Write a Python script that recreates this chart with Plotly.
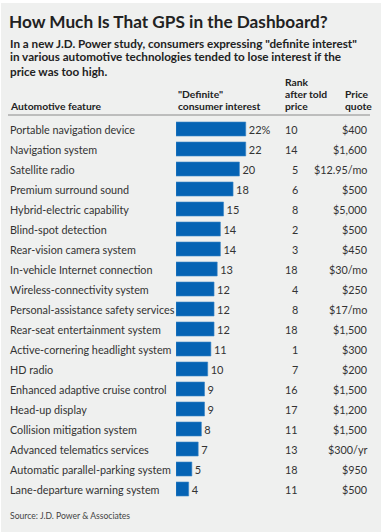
import plotly.graph_objects as go

features = [
    "Portable navigation device", "Navigation system", "Satellite radio",
    "Premium surround sound", "Hybrid-electric capability", "Blind-spot detection",
    "Rear-vision camera system", "In-vehicle Internet connection",
    "Wireless-connectivity system", "Personal-assistance safety services",
    "Rear-seat entertainment system", "Active-cornering headlight system",
    "HD radio", "Enhanced adaptive cruise control", "Head-up display",
    "Collision mitigation system", "Advanced telematics services",
    "Automatic parallel-parking system", "Lane-departure warning system",
]
interest = [22, 22, 20, 18, 15, 14, 14, 13, 12, 12, 12, 11, 10, 9, 9, 8, 7, 5, 4]
rank_after_price = [10, 14, 5, 6, 8, 2, 3, 18, 4, 8, 18, 1, 7, 16, 17, 11, 13, 18, 11]
price_quote = ["$400", "$1,600", "$12.95/mo", "$500", "$5,000", "$500", "$450",
               "$30/mo", "$250", "$17/mo", "$1,500", "$300", "$200", "$1,500",
               "$1,200", "$1,500", "$300/yr", "$950", "$500"]
value_labels = [f"{v}%" if i == 0 else str(v) for i, v in enumerate(interest)]

title = "How Much Is That GPS in the Dashboard?"
subtitle_lines = [
    "In a new J.D. Power study, consumers expressing \"definite interest\"",
    "in various automotive technologies tended to lose interest if the",
    "price was too high.",
]
source = "Source: J.D. Power & Associates"

W, H = 381, 532
FONT = "Lato, Roboto, sans-serif"
BG = "#eff0ef"
TXT = "#333333"

def px(x):
    return x / W

def py(y):
    return 1 - y / H

fig = go.Figure()
fig.add_trace(go.Bar(
    x=interest, y=features, orientation="h",
    marker=dict(color="#0563b4", line=dict(color="#3a86c8", width=0.6)),
    width=0.7,
    text=value_labels, textposition="outside", cliponaxis=False,
    textfont=dict(family=FONT, size=11, color=TXT),
    hoverinfo="skip",
))

ann = []
ann.append(dict(text=title, x=px(7), y=py(22), xref="paper", yref="paper",
                xanchor="left", yanchor="middle", showarrow=False,
                font=dict(family=FONT, size=17.2, color="#222222", weight=700)))
for i, line in enumerate(subtitle_lines):
    ann.append(dict(text=line, x=px(8), y=py(42.5 + 14 * i), xref="paper", yref="paper",
                    xanchor="left", yanchor="middle", showarrow=False,
                    font=dict(family=FONT, size=11.7, color="#222222", weight=700)))

hdr_font = dict(family=FONT, size=10.3, color="#222222", weight=700)
def hdr(text, x, y):
    ann.append(dict(text=text, x=px(x), y=py(y), xref="paper", yref="paper",
                    xanchor="left", yanchor="middle", showarrow=False, font=hdr_font))
hdr("Automotive feature", 8, 106)
hdr("\"Definite\"", 176, 94)
hdr("consumer interest", 176, 106)
hdr("Rank", 283, 82)
hdr("after told", 283, 94)
hdr("price", 283, 106)
hdr("Price", 343, 94)
hdr("quote", 343, 106)

row_font = dict(family=FONT, size=10.8, color=TXT)
for f, r, p in zip(features, rank_after_price, price_quote):
    ann.append(dict(text=f, x=px(8), y=f, xref="paper", yref="y",
                    xanchor="left", yanchor="middle", showarrow=False, font=row_font))
    ann.append(dict(text=str(r), x=px(300), y=f, xref="paper", yref="y",
                    xanchor="right", yanchor="middle", showarrow=False, font=row_font))
    ann.append(dict(text=p, x=px(369), y=f, xref="paper", yref="y",
                    xanchor="right", yanchor="middle", showarrow=False, font=row_font))

ann.append(dict(text=source, x=px(8), y=py(516), xref="paper", yref="paper",
                xanchor="left", yanchor="middle", showarrow=False,
                font=dict(family=FONT, size=8.6, color="#444444")))

shapes = [
    dict(type="rect", xref="paper", yref="paper", x0=px(1), x1=1, y0=0, y1=py(3),
         fillcolor=BG, line=dict(width=0), layer="below"),
    dict(type="line", xref="paper", yref="paper", x0=px(8), x1=px(370),
         y0=py(115), y1=py(115), line=dict(color="#8a8a8a", width=1)),
]

top, bottom = 119, 499
fig.update_layout(
    width=W, height=H, margin=dict(l=0, r=0, t=0, b=0),
    paper_bgcolor="white", plot_bgcolor="rgba(0,0,0,0)",
    showlegend=False, annotations=ann, shapes=shapes,
    xaxis=dict(domain=[px(176), px(376)], range=[0, 200 / 3.17], visible=False,
               fixedrange=True),
    yaxis=dict(domain=[py(bottom), py(top)], range=[len(features) - 0.5, -0.5],
               type="category", categoryorder="array", categoryarray=features,
               visible=False, fixedrange=True),
    bargap=0.3,
)

fig.write_html(
    "out.html",
    config={"displayModeBar": False},
    post_script="document.body.style.margin='0';document.body.style.overflow='hidden';",
)
